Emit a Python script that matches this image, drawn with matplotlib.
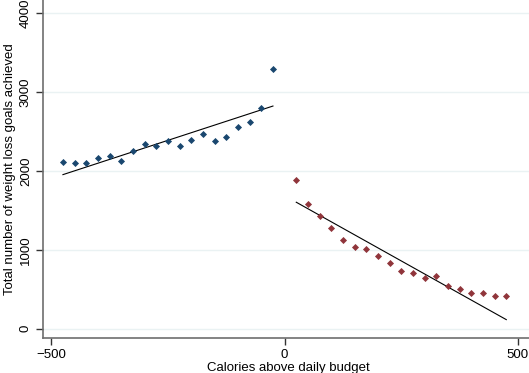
import matplotlib.pyplot as plt

plt.rcParams["font.family"] = ["Liberation Sans", "DejaVu Sans"]

# calories above daily budget (bin centres)
below_x = [-475, -450, -425, -400, -375, -350, -325, -300, -275, -250,
           -225, -200, -175, -150, -125, -100, -75, -50, -25]
below_y = [2118, 2105, 2096, 2168, 2190, 2130, 2248, 2342, 2316, 2375,
           2316, 2392, 2472, 2380, 2425, 2552, 2624, 2792, 3299]

above_x = [25, 50, 75, 100, 125, 150, 175, 200, 225, 250,
           275, 300, 325, 350, 375, 400, 425, 450, 475]
above_y = [1881, 1577, 1434, 1270, 1127, 1033, 1008, 915, 830, 725,
           704, 646, 666, 535, 506, 451, 456, 409, 409]

# fitted lines at each end
below_fit_x = [-475, -25]
below_fit_y = [1953, 2823]
above_fit_x = [25, 475]
above_fit_y = [1603, 114]

x_ticks = [-500, 0, 500]
y_ticks = [0, 1000, 2000, 3000, 4000]

BLUE = "#1a476f"
RED = "#90353b"
GRID = "#eaf2f3"
SPINE = "#6e6e6e"

fig = plt.figure(figsize=(5.29, 3.73), dpi=100)
ax = fig.add_axes([43 / 529, 35 / 373, 1 - 43 / 529 + 0.01, 338 / 373])

ax.scatter(below_x, below_y, marker="D", s=13, color=BLUE, zorder=3, linewidths=0)
ax.scatter(above_x, above_y, marker="D", s=13, color=RED, zorder=3, linewidths=0)
ax.plot(below_fit_x, below_fit_y, color="black", lw=0.8, zorder=2)
ax.plot(above_fit_x, above_fit_y, color="black", lw=0.8, zorder=2)

ax.set_xlim(-517.7, 535)
ax.set_ylim(-119, 4168)
ax.set_xticks(x_ticks)
ax.set_yticks(y_ticks)
ax.set_yticklabels([str(v) for v in y_ticks], rotation=90, va="center")

ax.grid(axis="y", color=GRID, lw=1)
ax.set_axisbelow(True)
for side in ("top", "right"):
    ax.spines[side].set_visible(False)
for side in ("left", "bottom"):
    ax.spines[side].set_color(SPINE)
    ax.spines[side].set_linewidth(1.2)
ax.tick_params(length=5, width=1, color="#333333", labelsize=9.5, pad=3)

ax.set_xlabel("Calories above daily budget", fontsize=9.5, labelpad=1)
ax.set_ylabel("Total number of weight loss goals achieved", fontsize=9.5, labelpad=3)

fig.savefig("out.png", dpi=100)
